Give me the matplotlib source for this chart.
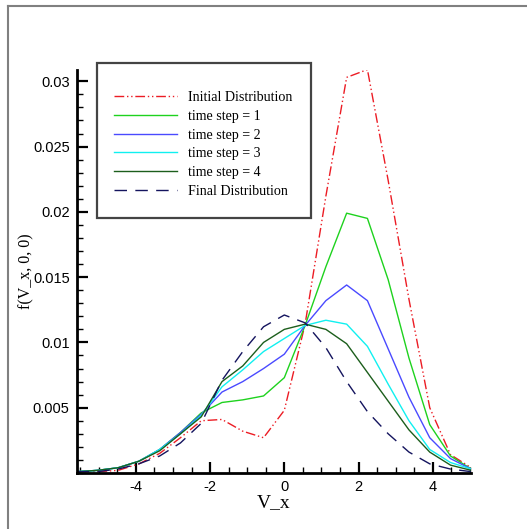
import numpy as np
import matplotlib
matplotlib.use("Agg")
import matplotlib.pyplot as plt
from matplotlib.ticker import FixedLocator, MultipleLocator
from matplotlib.lines import Line2D
from matplotlib.patches import Rectangle

# velocity grid
vx = [-5.6, -5.04, -4.48, -3.92, -3.36, -2.8, -2.24, -1.68, -1.12, -0.56,
      0.0, 0.56, 1.12, 1.68, 2.24, 2.8, 3.36, 3.92, 4.48, 5.04]

f_init = [0.0001, 0.0001, 0.0002, 0.0007, 0.0015, 0.0027, 0.0040, 0.0041, 0.0032, 0.0027,
          0.0048, 0.0114, 0.0212, 0.0303, 0.0309, 0.0224, 0.0133, 0.0050, 0.0014, 0.0004]
f_step1 = [0.0001, 0.0002, 0.0004, 0.0009, 0.0018, 0.0031, 0.0046, 0.0054, 0.0056, 0.0059,
           0.0073, 0.0113, 0.0158, 0.0199, 0.0195, 0.0148, 0.0088, 0.0037, 0.0013, 0.0003]
f_step2 = [0.0001, 0.0002, 0.0004, 0.0009, 0.0018, 0.0031, 0.0045, 0.0062, 0.0070, 0.0080,
           0.0091, 0.0113, 0.0132, 0.0144, 0.0132, 0.0095, 0.0058, 0.0027, 0.0011, 0.0003]
f_step3 = [0.0001, 0.0002, 0.0004, 0.0009, 0.0018, 0.0030, 0.0044, 0.0066, 0.0079, 0.0093,
           0.0103, 0.0113, 0.0117, 0.0114, 0.0097, 0.0068, 0.0040, 0.0018, 0.0008, 0.0003]
f_step4 = [0.0001, 0.0002, 0.0004, 0.0009, 0.0017, 0.0030, 0.0043, 0.0070, 0.0082, 0.0100,
           0.0110, 0.0114, 0.0110, 0.0099, 0.0077, 0.0055, 0.0033, 0.0016, 0.0006, 0.0002]
f_final = [0.0001, 0.0001, 0.0003, 0.0007, 0.0013, 0.0023, 0.0038, 0.0071, 0.0093, 0.0112,
           0.0121, 0.0115, 0.0096, 0.0070, 0.0047, 0.0030, 0.0016, 0.0007, 0.0003, 0.0001]

labels = ["Initial Distribution", "time step = 1", "time step = 2",
          "time step = 3", "time step = 4", "Final Distribution"]

serif = ["Liberation Serif", "DejaVu Serif"]
plt.rcParams["font.family"] = ["Liberation Sans", "DejaVu Sans"]
plt.rcParams["axes.unicode_minus"] = False

W, H = 527, 529
fig = plt.figure(figsize=(5.27, 5.29), dpi=100)
ax = fig.add_axes([0.1453, 0.1059, 0.7490, 0.7626])

ax.plot(vx, f_init, color="#ec1c24", lw=1.0, ls=(0, (7, 2, 1, 2, 1, 2)), label=labels[0])
ax.plot(vx, f_step1, color="#1ed21e", lw=1.0, label=labels[1])
ax.plot(vx, f_step2, color="#4a4aff", lw=1.0, label=labels[2])
ax.plot(vx, f_step3, color="#10f0f0", lw=1.0, label=labels[3])
ax.plot(vx, f_step4, color="#1c5e1c", lw=1.0, label=labels[4])
ax.plot(vx, f_final, color="#14145e", lw=1.0, ls=(0, (9, 6)), label=labels[5])

ax.set_xlim(-5.6, 5.04)
ax.set_ylim(0, 0.0309)

for s in ["top", "right"]:
    ax.spines[s].set_visible(False)
for s in ["left", "bottom"]:
    ax.spines[s].set_linewidth(2.0)

ax.xaxis.set_major_locator(FixedLocator([-4, -2, 0, 2, 4]))
ax.xaxis.set_minor_locator(FixedLocator(np.arange(-5.5, 5.01, 0.5)))
ax.yaxis.set_major_locator(FixedLocator([0.005, 0.01, 0.015, 0.02, 0.025, 0.03]))
ax.yaxis.set_minor_locator(MultipleLocator(0.001))
ax.set_yticklabels(["0.005", "0.01", "0.015", "0.02", "0.025", "0.03"])
ax.tick_params(which="major", direction="in", length=8, width=1.6, labelsize=10.5, pad=5)
ax.tick_params(which="minor", direction="in", length=4, width=1.0)

ax.set_xlabel("V_x", family=serif, fontsize=14, labelpad=0)
ax.set_ylabel("f(V_x, 0, 0)", family=serif, fontsize=11.5, labelpad=-1)

# legend box drawn separately, entries placed inside it
box = Rectangle((96.5 / W, 1 - 218 / H), 214 / W, 155 / H, transform=fig.transFigure,
                facecolor="white", edgecolor="#444444", lw=1.6, zorder=4, clip_on=False)
ax.add_artist(box)
leg = ax.legend(loc="upper left", bbox_to_anchor=(114 / W, 1 - 91 / H),
                bbox_transform=fig.transFigure, prop={"family": serif, "size": 10.1},
                frameon=False, handlelength=4.5, handletextpad=0.75,
                labelspacing=0.41, borderpad=0, borderaxespad=0)
leg.set_zorder(5)

# outer frame
fig.add_artist(Line2D([8 / W, 8 / W], [0, 1 - 6 / H], color="#808080", lw=1.5))
fig.add_artist(Line2D([8 / W, 1], [1 - 6 / H, 1 - 6 / H], color="#808080", lw=1.5))

fig.savefig("out.png", dpi=100)
